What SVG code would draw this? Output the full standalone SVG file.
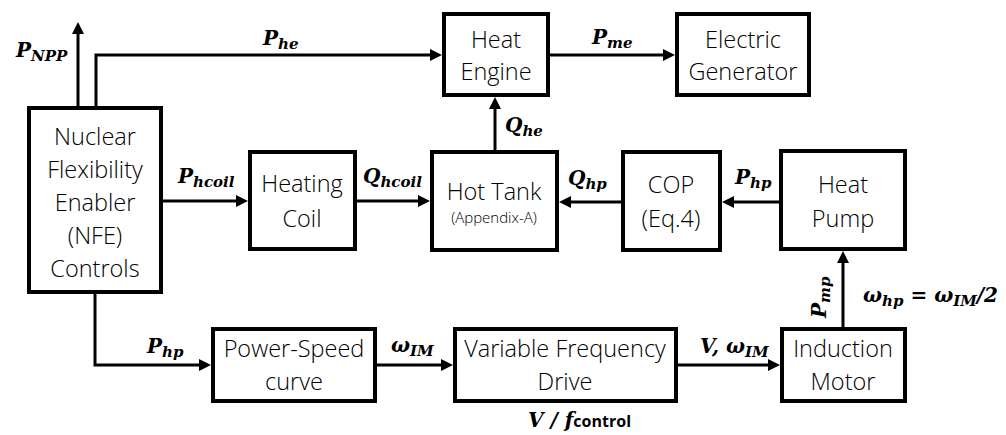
<svg xmlns="http://www.w3.org/2000/svg" width="1006" height="435" viewBox="0 0 1006 435">
<style>
.box{fill:#fff;stroke:#000;stroke-width:4}
.t{font-family:"Open Sans","Noto Sans",sans-serif;font-weight:300;font-size:23.5px;fill:#000;text-anchor:middle}
.ts{font-family:"Open Sans","Noto Sans",sans-serif;font-weight:300;font-size:15px;fill:#000;text-anchor:middle}
.m{font-family:"DejaVu Serif",serif;font-weight:bold;font-style:italic;font-size:20px;fill:#000}
.s{font-size:15px}
.c{fill:none;stroke:#000;stroke-width:3;marker-end:url(#ah)}
.cb{font-family:"Open Sans","Noto Sans",sans-serif;font-weight:bold;font-style:normal;font-size:16px}
</style>
<defs>
<marker id="ah" markerUnits="userSpaceOnUse" viewBox="0 0 12 12" markerWidth="12" markerHeight="12" refX="6" refY="6" orient="auto">
<path d="M0,0 L12,6 L0,12 z" fill="#000"/>
</marker>
</defs>
<rect width="1006" height="435" fill="#fff"/>
<g id="connectors">
<path class="c" d="M78,106 V28"/>
<path class="c" d="M96,106 V55 H436"/>
<path class="c" d="M550,55 H669"/>
<path class="c" d="M495,150 V103"/>
<path class="c" d="M163,201 H242"/>
<path class="c" d="M357,201 H424"/>
<path class="c" d="M621,202 H565"/>
<path class="c" d="M779,202 H728"/>
<path class="c" d="M843,327 V257"/>
<path class="c" d="M95,294 V365 H205"/>
<path class="c" d="M377,365 H447"/>
<path class="c" d="M678,365 H774"/>
</g>
<g id="labels">
<text class="m" x="16" y="57">P<tspan class="s" dy="4">NPP</tspan></text>
<text class="m" x="263" y="45">P<tspan class="s" dy="4">he</tspan></text>
<text class="m" x="592" y="44">P<tspan class="s" dy="4">me</tspan></text>
<text class="m" x="505" y="132">Q<tspan class="s" dy="4">he</tspan></text>
<text class="m" x="178" y="183">P<tspan class="s" dy="4">hcoil</tspan></text>
<text class="m" x="363" y="183">Q<tspan class="s" dy="4">hcoil</tspan></text>
<text class="m" x="568" y="185">Q<tspan class="s" dy="4">hp</tspan></text>
<text class="m" x="735" y="184">P<tspan class="s" dy="4">hp</tspan></text>
<text class="m" x="147" y="353">P<tspan class="s" dy="4">hp</tspan></text>
<text class="m" x="391" y="352">ω<tspan class="s" dy="4">IM</tspan></text>
<text class="m" x="700" y="353">V, ω<tspan class="s" dy="4">IM</tspan></text>
<text class="m" transform="translate(826,318) rotate(-90)">P<tspan class="s" dy="4">mp</tspan></text>
<text class="m" x="863" y="302">ω<tspan class="s" dy="4">hp</tspan><tspan dy="-4"> = ω</tspan><tspan class="s" dy="4">IM</tspan><tspan dy="-4">/2</tspan></text>
<text class="m" x="528" y="427">V / f<tspan class="cb">control</tspan></text>
</g>
<g id="nfe">
<rect class="box" x="29" y="108" width="132" height="184"/>
<text class="t" x="95" y="145">Nuclear</text>
<text class="t" x="95" y="178">Flexibility</text>
<text class="t" x="95" y="211">Enabler</text>
<text class="t" x="95" y="244">(NFE)</text>
<text class="t" x="95" y="277">Controls</text>
</g>
<g id="heat-engine">
<rect class="box" x="444" y="14" width="104" height="81"/>
<text class="t" x="496" y="48">Heat</text>
<text class="t" x="496" y="80">Engine</text>
</g>
<g id="electric-generator">
<rect class="box" x="677" y="14" width="132" height="81"/>
<text class="t" x="743" y="48">Electric</text>
<text class="t" x="743" y="80">Generator</text>
</g>
<g id="heating-coil">
<rect class="box" x="250" y="152" width="105" height="97"/>
<text class="t" x="302" y="192">Heating</text>
<text class="t" x="302" y="227">Coil</text>
</g>
<g id="hot-tank">
<rect class="box" x="432" y="152" width="125" height="98"/>
<text class="t" x="494" y="200">Hot Tank</text>
<text class="ts" x="494" y="223">(Appendix-A)</text>
</g>
<g id="cop">
<rect class="box" x="623" y="152" width="97" height="98"/>
<text class="t" x="671" y="193">COP</text>
<text class="t" x="671" y="227">(Eq.4)</text>
</g>
<g id="heat-pump">
<rect class="box" x="781" y="151" width="124" height="98"/>
<text class="t" x="843" y="193">Heat</text>
<text class="t" x="843" y="227">Pump</text>
</g>
<g id="power-speed">
<rect class="box" x="213" y="329" width="162" height="72"/>
<text class="t" x="294" y="357">Power-Speed</text>
<text class="t" x="294" y="390">curve</text>
</g>
<g id="vfd">
<rect class="box" x="455" y="329" width="221" height="72"/>
<text class="t" x="565" y="357">Variable Frequency</text>
<text class="t" x="565" y="390">Drive</text>
</g>
<g id="induction-motor">
<rect class="box" x="782" y="329" width="123" height="72"/>
<text class="t" x="843" y="357">Induction</text>
<text class="t" x="843" y="390">Motor</text>
</g>
</svg>
